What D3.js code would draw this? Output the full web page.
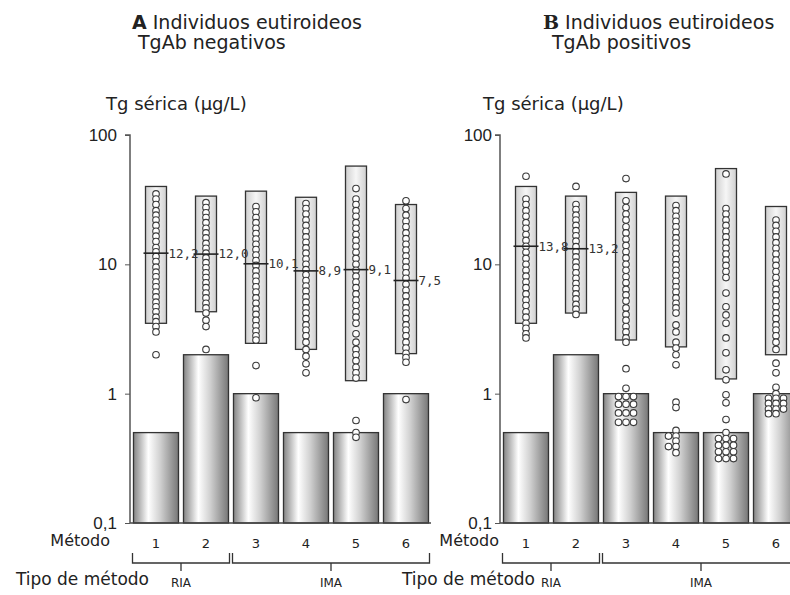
<!DOCTYPE html>
<html>
<head>
<meta charset="utf-8">
<script src="https://cdn.jsdelivr.net/npm/d3@7/dist/d3.min.js"></script>
<style>
  html, body { margin: 0; padding: 0; background: #fff; }
  svg { display: block; }
  text { font-family: "DejaVu Sans", Verdana, sans-serif; fill: #222; }
</style>
</head>
<body>
<svg id="chart" width="790" height="595"></svg>
<script>
// Methods and their assay type
const methods = ["1", "2", "3", "4", "5", "6"];
const methodTypes = [
  { label: "RIA", from: "1", to: "2" },
  { label: "IMA", from: "3", to: "6" }
];
const yTicks = [0.1, 1, 10, 100];
const yTickLabels = ["0,1", "1", "10", "100"];

// Functional sensitivity of each method (µg/L)
const sensitivity = [0.5, 2, 1, 0.5, 0.5, 1];

// Panel A: euthyroid, TgAb negative
const rangeLowA  = [3.5, 4.3, 2.45, 2.2, 1.26, 2.04];
const rangeHighA = [40, 33.7, 36.8, 33, 57.5, 29];
const medianA    = [12.2, 12.0, 10.1, 8.9, 9.1, 7.5];
const valuesA = [
  [35, 32, 29, 26, 24, 22, 20, 18, 16.5, 15, 13.5, 12.5, 11.5, 10.5, 9.5, 8.7, 8, 7.3, 6.7, 6.1, 5.6, 5.1, 4.7, 4.3, 3.9, 3.6, 3.3, 3.0, 2.0],
  [30, 27.5, 25, 23, 21, 19, 17.5, 16, 14.5, 13.3, 12.2, 11.2, 10.3, 9.4, 8.6, 7.9, 7.2, 6.6, 6.0, 5.5, 5.0, 4.6, 4.2, 3.7, 3.3, 2.2],
  [28, 25.5, 23, 21, 19, 17.3, 15.7, 14.3, 13, 11.8, 10.7, 9.8, 8.9, 8.1, 7.4, 6.7, 6.1, 5.5, 5.0, 4.5, 4.1, 3.7, 3.35, 3.05, 2.8, 2.6, 1.65, 0.93],
  [29.5, 27, 24.5, 22, 20, 18, 16.3, 14.8, 13.4, 12.2, 11, 10, 9.1, 8.3, 7.5, 6.8, 6.2, 5.6, 5.1, 4.6, 4.2, 3.8, 3.4, 3.1, 2.8, 2.5, 2.2, 1.95, 1.7, 1.45],
  [38.5, 32, 29, 26, 23.5, 21, 19, 17, 15.3, 13.8, 12.4, 11.1, 10, 9, 8.1, 7.3, 6.6, 5.9, 5.3, 4.8, 4.3, 3.9, 3.5, 2.9, 2.5, 2.2, 2.0, 1.8, 1.6, 1.45, 1.32, 0.62, 0.5, 0.46],
  [31, 27, 24, 21.5, 19.5, 17.5, 15.8, 14.3, 12.9, 11.6, 10.5, 9.5, 8.6, 7.8, 7, 6.3, 5.7, 5.1, 4.6, 4.2, 3.8, 3.4, 3.1, 2.8, 2.5, 2.25, 2.05, 1.9, 1.75, 0.9]
];

// Panel B: euthyroid, TgAb positive
const rangeLowB  = [3.5, 4.2, 2.6, 2.3, 1.3, 2.0];
const rangeHighB = [40, 33.7, 36, 33.7, 55, 28];
const medianB    = [13.8, 13.2, null, null, null, null];
const valuesB = [
  [48, 32, 29, 26, 23.5, 21, 19, 17, 15.3, 13.8, 12.4, 11.1, 10, 9, 8.1, 7.3, 6.6, 5.9, 5.3, 4.8, 4.3, 3.9, 3.5, 3.2, 2.9, 2.7],
  [40, 29, 26.5, 24, 22, 20, 18.2, 16.6, 15.1, 13.7, 12.5, 11.4, 10.4, 9.5, 8.6, 7.8, 7.1, 6.5, 5.9, 5.4, 4.9, 4.5, 4.1],
  [46, 31, 27.5, 24.5, 22, 19.5, 17.5, 15.6, 14, 12.5, 11.2, 10, 9, 8, 7.2, 6.4, 5.8, 5.2, 4.6, 4.1, 3.7, 3.3, 3.0, 2.7, 2.5, 1.56,
   1.1, 0.95, 0.95, 0.95, 0.83, 0.83, 0.83, 0.71, 0.71, 0.71, 0.6, 0.6, 0.6],
  [28.5, 26, 23.5, 21.5, 19.5, 17.7, 16, 14.6, 13.3, 12, 10.9, 9.9, 9, 8.2, 7.4, 6.7, 6.1, 5.5, 5, 4.6, 4.2, 3.4, 3.0, 2.5, 2.25, 2.0, 1.67, 0.86, 0.78,
   0.52, 0.47, 0.47, 0.43, 0.39, 0.39, 0.35],
  [50, 27, 24.5, 22, 20, 18, 16.3, 14.7, 13.3, 12, 10.8, 9.8, 8.8, 7.9, 6.0, 4.7, 4.06, 3.5, 2.7, 2.07, 1.53, 1.28, 0.98, 0.85, 0.63,
   0.5, 0.45, 0.45, 0.45, 0.4, 0.4, 0.4, 0.355, 0.355, 0.355, 0.315, 0.315, 0.315],
  [22, 20, 18, 16.3, 14.7, 13.3, 12, 10.8, 9.8, 8.8, 7.9, 7.1, 6.4, 5.8, 5.2, 4.7, 4.2, 3.8, 3.4, 3.1, 2.8, 2.5, 2.2, 1.72, 1.45, 1.12,
   1.0, 0.92, 0.92, 0.92, 0.84, 0.84, 0.84, 0.76, 0.76, 0.76, 0.7, 0.7]
];

const fmt = v => d3.format(".1f")(v).replace(".", ",");

const svg = d3.select("#chart");
const defs = svg.append("defs");

// Cylinder-like shading for the sensitivity bars
const barGrad = defs.append("linearGradient").attr("id", "barGrad")
  .attr("x1", "0%").attr("x2", "100%").attr("y1", "0%").attr("y2", "0%");
[[0, "#858585"], [0.12, "#b0b0b0"], [0.33, "#ffffff"], [0.6, "#cfcfcf"], [1, "#777777"]]
  .forEach(([o, c]) => barGrad.append("stop").attr("offset", o).attr("stop-color", c));

// Soft shading for the range boxes
const boxGrad = defs.append("linearGradient").attr("id", "boxGrad")
  .attr("x1", "0%").attr("x2", "100%").attr("y1", "0%").attr("y2", "0%");
[[0, "#cfcfcf"], [0.5, "#f6f6f6"], [1, "#cfcfcf"]]
  .forEach(([o, c]) => boxGrad.append("stop").attr("offset", o).attr("stop-color", c));

const y = d3.scaleLog().domain([0.1, 100]).range([523, 135]);

// Spread out points that would sit on top of each other
function dodge(values, step) {
  const placed = [];
  return values.map(v => {
    const cy = y(v);
    const offs = [0, -step, step, -2 * step, 2 * step];
    let dx = 0;
    for (const o of offs) {
      if (!placed.some(p => Math.abs(p.cy - cy) < 3.5 && Math.abs(p.dx - o) < step * 0.9)) { dx = o; break; }
    }
    placed.push({ cy, dx });
    return { v, cy, dx };
  });
}

const panels = [
  { letter: "A", letterFont: "'DejaVu Sans', Verdana, sans-serif", line1: "Individuos eutiroideos", line2: "TgAb negativos",
    axisX: 130, right: 431, titleX: 132, line2X: 138, ylabX: 106, metodoX: 110, tipoX: 149, tickPad: 8,
    low: rangeLowA, high: rangeHighA, median: medianA, values: valuesA },
  { letter: "B", letterFont: "'DejaVu Serif', 'Liberation Serif', serif", line1: "Individuos eutiroideos", line2: "TgAb positivos",
    axisX: 500, right: 801, titleX: 543, line2X: 552, ylabX: 483, metodoX: 499, tipoX: 535, tickPad: 3,
    low: rangeLowB, high: rangeHighB, median: medianB, values: valuesB }
];

panels.forEach(p => {
  const g = svg.append("g");
  const x = d3.scaleBand().domain(methods).range([p.axisX + 1, p.right])
    .paddingInner(0.1).paddingOuter(0.05);
  const bw = x.bandwidth();
  const boxW = 21;

  // Titles
  const t1 = g.append("text").attr("x", p.titleX).attr("y", 29).style("font-size", "19px");
  t1.append("tspan").text(p.letter).style("font-weight", "bold").style("font-family", p.letterFont);
  t1.append("tspan").text(" " + p.line1);
  g.append("text").attr("x", p.line2X).attr("y", 49).style("font-size", "19px").text(p.line2);
  g.append("text").attr("x", p.ylabX).attr("y", 110).style("font-size", "18px").text("Tg sérica (µg/L)");

  // Sensitivity bars
  g.selectAll("rect.bar").data(methods).join("rect").attr("class", "bar")
    .attr("x", d => x(d)).attr("width", bw)
    .attr("y", (d, i) => y(sensitivity[i]))
    .attr("height", (d, i) => y(0.1) - y(sensitivity[i]))
    .attr("fill", "url(#barGrad)").attr("stroke", "#333").attr("stroke-width", 1.3);

  // Baseline
  g.append("line").attr("x1", p.axisX).attr("x2", p.right).attr("y1", y(0.1)).attr("y2", y(0.1))
    .attr("stroke", "#444").attr("stroke-width", 1.5);

  // Reference range boxes
  g.selectAll("rect.box").data(methods).join("rect").attr("class", "box")
    .attr("x", d => x(d) + bw / 2 - boxW / 2).attr("width", boxW)
    .attr("y", (d, i) => y(p.high[i]))
    .attr("height", (d, i) => y(p.low[i]) - y(p.high[i]))
    .attr("fill", "url(#boxGrad)").attr("stroke", "#333").attr("stroke-width", 1.3);

  // Individual results
  methods.forEach((m, i) => {
    const cx = x(m) + bw / 2;
    g.append("g").selectAll("circle").data(dodge(p.values[i], 7.5)).join("circle")
      .attr("cx", d => cx + d.dx).attr("cy", d => d.cy).attr("r", 3.3)
      .attr("fill", "#fff").attr("stroke", "#3a3a3a").attr("stroke-width", 1.1);
  });

  // Medians
  methods.forEach((m, i) => {
    const med = p.median[i];
    if (med == null) return;
    const cx = x(m) + bw / 2;
    g.append("line").attr("x1", cx - boxW / 2 - 2).attr("x2", cx + boxW / 2 + 2)
      .attr("y1", y(med)).attr("y2", y(med)).attr("stroke", "#222").attr("stroke-width", 1.6);
    g.append("text").attr("x", cx + boxW / 2 + 2).attr("y", y(med)).attr("dy", "0.35em")
      .style("font-family", "'DejaVu Sans Mono', monospace").style("font-size", "12.5px").style("fill", "#333")
      .text(fmt(med));
  });

  // Y axis
  const ax = g.append("g").attr("transform", `translate(${p.axisX},0)`)
    .call(d3.axisLeft(y).tickValues(yTicks).tickFormat((d, i) => yTickLabels[i]).tickSize(5).tickPadding(p.tickPad));
  ax.select(".domain").attr("stroke", "#555").attr("stroke-width", 1.5).attr("d", `M-5,${y(100)}H0V${y(0.1)}`);
  ax.selectAll(".tick line").attr("stroke", "#555");
  ax.selectAll(".tick text").style("font-size", "17px").style("font-family", "'Liberation Sans', Arial, sans-serif").style("fill", "#222");

  // Method numbers
  g.selectAll("text.mnum").data(methods).join("text").attr("class", "mnum")
    .attr("x", d => x(d) + bw / 2).attr("y", 548).attr("text-anchor", "middle")
    .style("font-size", "13px").text(d => d);
  g.append("text").attr("x", p.metodoX).attr("y", 546).attr("text-anchor", "end")
    .style("font-size", "16px").text("Método");

  // Method type brackets
  methodTypes.forEach(t => {
    const x0 = x(t.from) - 1, x1 = x(t.to) + bw + 1, xm = (x0 + x1) / 2;
    g.append("path").attr("d", `M${x0},553V563H${x1}V553M${xm},563V571`)
      .attr("fill", "none").attr("stroke", "#333").attr("stroke-width", 1.3);
    g.append("text").attr("x", xm).attr("y", 587).attr("text-anchor", "middle")
      .style("font-size", "12px").text(t.label);
  });
  g.append("text").attr("x", p.tipoX).attr("y", 585).attr("text-anchor", "end")
    .style("font-size", "17px").text("Tipo de método");
});
</script>
</body>
</html>
